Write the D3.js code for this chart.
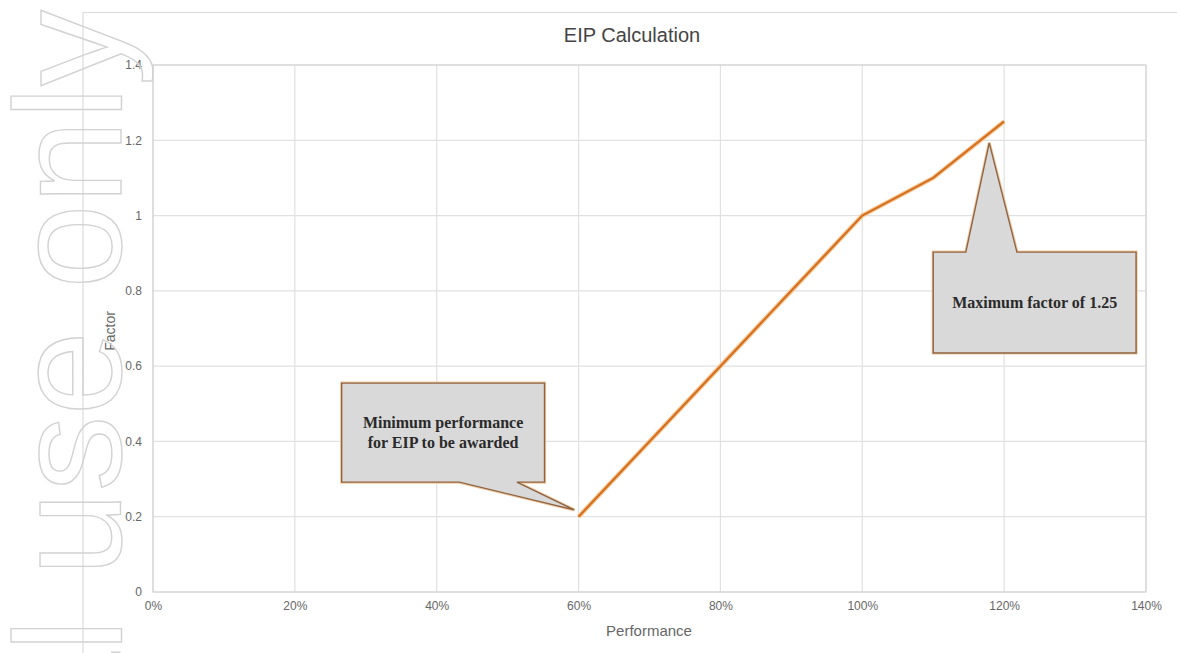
<!DOCTYPE html>
<html>
<head>
<meta charset="utf-8">
<script src="https://cdn.jsdelivr.net/npm/d3@7"></script>
<style>
  body { margin: 0; background: #fff; }
  svg { display: block; }
</style>
</head>
<body>
<div id="chart"></div>
<script>
// data
const performance = [0.6, 0.7, 0.8, 0.9, 1.0, 1.1, 1.2];
const factor = [0.2, 0.4, 0.6, 0.8, 1.0, 1.1, 1.25];
const xTicks = [0, 0.2, 0.4, 0.6, 0.8, 1.0, 1.2, 1.4];
const yTicks = [0, 0.2, 0.4, 0.6, 0.8, 1.0, 1.2, 1.4];
const yTickLabels = ["0", "0.2", "0.4", "0.6", "0.8", "1", "1.2", "1.4"];
const minNote = ["Minimum performance", "for EIP to be awarded"];
const maxNote = ["Maximum factor of 1.25"];

const W = 1177, H = 653;
const margin = {top: 65, right: 31, bottom: 61, left: 153};
const width = W - margin.left - margin.right;
const height = H - margin.top - margin.bottom;

const root = d3.select("#chart").append("svg")
    .attr("width", W)
    .attr("height", H);

// outer chart frame (only top & left show in the crop)
root.append("path")
    .attr("d", "M83," + H + "V12.5H" + W)
    .attr("fill", "none")
    .attr("stroke", "#dcdcdc")
    .attr("stroke-width", 1.2);

const svg = root.append("g")
    .attr("transform", "translate(" + margin.left + "," + margin.top + ")");

const x = d3.scaleLinear().domain([0, 1.4]).range([0, width]);
const y = d3.scaleLinear().domain([0, 1.4]).range([height, 0]);

// grid
svg.append("g")
    .selectAll("line")
    .data(xTicks)
    .join("line")
    .attr("x1", d => x(d)).attr("x2", d => x(d))
    .attr("y1", 0).attr("y2", height)
    .attr("stroke", "#e1e1e1")
    .attr("stroke-width", 1.2);

svg.append("g")
    .selectAll("line")
    .data(yTicks)
    .join("line")
    .attr("x1", 0).attr("x2", width)
    .attr("y1", d => y(d)).attr("y2", d => y(d))
    .attr("stroke", "#e1e1e1")
    .attr("stroke-width", 1.2);

svg.append("rect")
    .attr("width", width).attr("height", height)
    .attr("fill", "none")
    .attr("stroke", "#d4d4d4")
    .attr("stroke-width", 1.2);

const xAxis = d3.axisBottom(x).tickValues(xTicks).tickSize(0).tickPadding(9)
    .tickFormat(d3.format(".0%"));
const yAxis = d3.axisLeft(y).tickValues(yTicks).tickSize(0).tickPadding(11)
    .tickFormat((d, i) => yTickLabels[i]);

svg.append("g")
    .attr("transform", "translate(0," + height + ")")
    .call(xAxis)
    .call(g => g.select(".domain").remove());

svg.append("g")
    .call(yAxis)
    .call(g => g.select(".domain").remove());

svg.selectAll(".tick text")
    .attr("fill", "#666")
    .attr("font-family", "Liberation Sans, Arial, sans-serif")
    .attr("font-size", 12);

// line
const pts = performance.map((p, i) => [p, factor[i]]);
const line = d3.line().x(d => x(d[0])).y(d => y(d[1]));

svg.append("path")
    .datum(pts)
    .attr("d", line)
    .attr("fill", "none")
    .attr("stroke", "#f7c896")
    .attr("stroke-width", 4.5);

svg.append("path")
    .datum(pts)
    .attr("d", line)
    .attr("fill", "none")
    .attr("stroke", "#d4701f")
    .attr("stroke-width", 2.2);

// callouts
function callout(box, base, tip, side, lines) {
    const x0 = x(box[0]), x1 = x(box[1]);
    const yt = y(box[3]), yb = y(box[2]);
    const b0 = x(base[0]), b1 = x(base[1]);
    const tx = x(tip[0]), ty = y(tip[1]);
    let d;
    if (side === "bottom") {
        d = "M" + x0 + "," + yt + "H" + x1 + "V" + yb + "H" + b1 +
            "L" + tx + "," + ty + "L" + b0 + "," + yb + "H" + x0 + "Z";
    } else {
        d = "M" + x0 + "," + yt + "H" + b0 + "L" + tx + "," + ty +
            "L" + b1 + "," + yt + "H" + x1 + "V" + yb + "H" + x0 + "Z";
    }
    const g = svg.append("g");
    g.append("path")
        .attr("d", d)
        .attr("fill", "#d9d9d9")
        .attr("stroke", "#f3c9a0")
        .attr("stroke-width", 3.2)
        .attr("stroke-linejoin", "miter");
    g.append("path")
        .attr("d", d)
        .attr("fill", "#d9d9d9")
        .attr("stroke", "#8e6443")
        .attr("stroke-width", 1.4);
    const cx = (x0 + x1) / 2, cy = (yt + yb) / 2;
    g.append("text")
        .attr("x", cx)
        .attr("y", cy - (lines.length - 1) * 10 + 5)
        .attr("text-anchor", "middle")
        .attr("font-family", "Liberation Serif, Times New Roman, serif")
        .attr("font-weight", "bold")
        .attr("font-size", 16)
        .attr("fill", "#2a2a2a")
        .selectAll("tspan")
        .data(lines)
        .join("tspan")
        .attr("x", cx)
        .attr("dy", (d, i) => i === 0 ? 0 : 20)
        .text(d => d);
}

callout([0.266, 0.552, 0.292, 0.555], [0.432, 0.513], [0.594, 0.218], "bottom", minNote);
callout([1.10, 1.386, 0.635, 0.903], [1.146, 1.218], [1.179, 1.193], "top", maxNote);

// titles
root.append("text")
    .attr("x", 632).attr("y", 42)
    .attr("text-anchor", "middle")
    .attr("font-family", "Liberation Sans, Arial, sans-serif")
    .attr("font-size", 20)
    .attr("fill", "#444")
    .text("EIP Calculation");

root.append("text")
    .attr("x", 649).attr("y", 636)
    .attr("text-anchor", "middle")
    .attr("font-family", "Liberation Sans, Arial, sans-serif")
    .attr("font-size", 15)
    .attr("fill", "#666")
    .text("Performance");

root.append("text")
    .attr("transform", "translate(115,331) rotate(-90)")
    .attr("text-anchor", "middle")
    .attr("font-family", "Liberation Sans, Arial, sans-serif")
    .attr("font-size", 14)
    .attr("fill", "#666")
    .text("Factor");

// watermark, cut off by the frame as in the source
root.append("text")
    .attr("transform", "translate(121,10) rotate(-90)")
    .attr("text-anchor", "end")
    .attr("font-family", "Liberation Sans, Arial, sans-serif")
    .attr("font-size", 152)
    .attr("fill", "none")
    .attr("stroke", "#d2d2d2")
    .attr("stroke-width", 1.4)
    .text("Internal use only");
</script>
</body>
</html>
